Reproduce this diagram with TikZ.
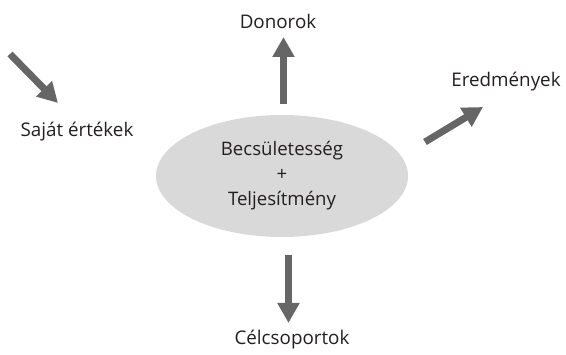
\documentclass[tikz,border=0pt]{standalone}
\usepackage{fontspec}
\setmainfont{Open Sans}
\usetikzlibrary{arrows.meta,shapes.geometric}
\definecolor{arrowgray}{HTML}{666666}
\definecolor{ellgray}{HTML}{D9D9D9}
\definecolor{txt}{HTML}{231F20}
\tikzset{
  lbl/.style={font=\fontsize{18.8}{22}\selectfont, text=txt, inner sep=0pt},
  bigarrow/.style={draw=arrowgray, line width=7pt, -{Triangle[width=21pt,length=20pt]}, fill=arrowgray},
  core/.style={ellipse, fill=ellgray, minimum width=252pt, minimum height=122pt, inner sep=0pt,
    align=center, font=\fontsize{18.6}{25}\selectfont, text=txt}
}
\begin{document}
\begin{tikzpicture}[x=1pt,y=-1pt]
\useasboundingbox (0,0) rectangle (566,355);
\node[core] (center) at (282,176) {Becsületesség\\+\\Teljesítmény};
\node[lbl] (don) at (278,21) {Donorok};
\node[lbl] (cel) at (292,340) {Célcsoportok};
\node[lbl] (saj) at (77,132) {Saját értékek};
\node[lbl] (ered) at (506,82) {Eredmények};
\coordinate (upS) at (283.5,104);
\coordinate (upE) at (283.5,37);
\coordinate (dnS) at (288.5,255);
\coordinate (dnE) at (288.5,323);
\coordinate (lS) at (10,54);
\coordinate (lE) at (58,103);
\coordinate (rS) at (425,142);
\coordinate (rE) at (483,107);
\draw[bigarrow] (upS) -- (upE);
\draw[bigarrow] (dnS) -- (dnE);
\draw[bigarrow] (lS) -- (lE);
\draw[bigarrow] (rS) -- (rE);
\end{tikzpicture}
\end{document}
